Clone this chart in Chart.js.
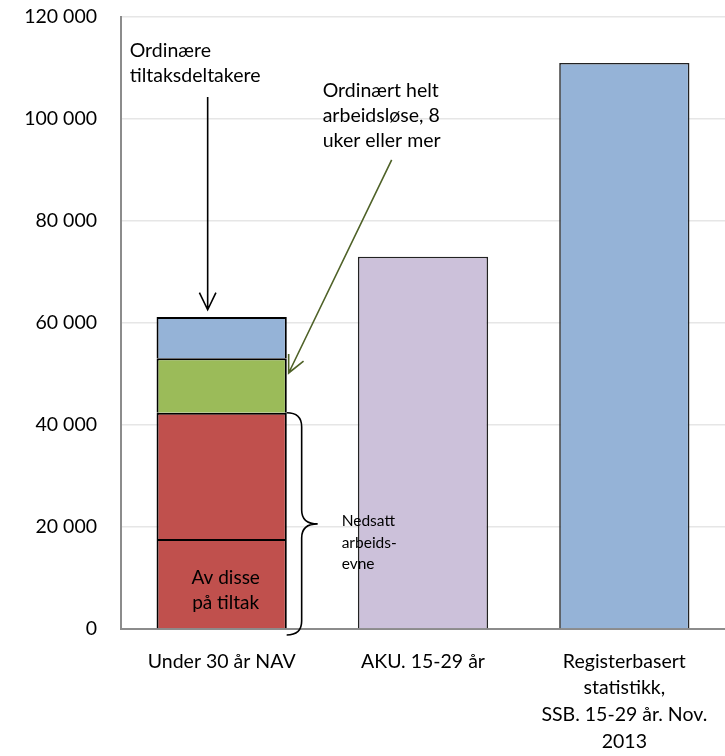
<!DOCTYPE html>
<html>
<head>
<meta charset="utf-8">
<script src="https://cdn.jsdelivr.net/npm/chart.js@4/dist/chart.umd.min.js"></script>
<style>
  html, body { margin: 0; padding: 0; background: #fff; }
  #wrap { width: 725px; height: 756px; }
</style>
</head>
<body>
<div id="wrap"><canvas id="chart" width="725" height="756"></canvas></div>
<script>
// ---------- DATA ----------
const categories = [
  ["Under 30 år NAV"],
  ["AKU. 15-29 år"],
  ["Registerbasert", "statistikk,", "SSB. 15-29 år. Nov.", "2013"]
];
const paaTiltak = [17650, null, null];        // nedsatt arbeidsevne, av disse på tiltak
const nedsattOvrige = [24750, null, null];    // resten av nedsatt arbeidsevne
const heltLedige = [10700, null, null];       // ordinært helt arbeidsløse, 8 uker+
const ordinaereTiltak = [8100, null, null];   // ordinære tiltaksdeltakere
const totaler = [null, 73000, 111000];
const yTicks = [0, 20000, 40000, 60000, 80000, 100000, 120000];

const FONT = "Lato, 'Open Sans', sans-serif";
const RED = "#c0504d", GREEN = "#9bbb59", BLUE = "#95b3d7", LILAC = "#ccc1da";

function fmt(v) {
  return String(v).replace(/\B(?=(\d{3})+(?!\d))/g, " ");
}

// ---------- ANNOTATIONS ----------
function arrow(ctx, x1, y1, x2, y2, color, head) {
  ctx.save();
  ctx.strokeStyle = color;
  ctx.lineWidth = 1.6;
  ctx.beginPath();
  ctx.moveTo(x1, y1);
  ctx.lineTo(x2, y2);
  const a = Math.atan2(y2 - y1, x2 - x1);
  ctx.moveTo(x2 - head * Math.cos(a - 0.45), y2 - head * Math.sin(a - 0.45));
  ctx.lineTo(x2, y2);
  ctx.lineTo(x2 - head * Math.cos(a + 0.45), y2 - head * Math.sin(a + 0.45));
  ctx.stroke();
  ctx.restore();
}

function lines(ctx, arr, x, y, step) {
  arr.forEach((t, i) => ctx.fillText(t, x, y + i * step));
}

const annotations = {
  id: "annotations",
  afterDatasetsDraw(chart) {
    const { ctx, scales: { x, y } } = chart;
    const bx = x.getPixelForValue(0);
    const half = 65;
    ctx.save();
    ctx.fillStyle = "#000";
    ctx.textBaseline = "middle";

    ctx.font = "15.5px " + FONT;
    ctx.textAlign = "left";
    lines(ctx, ["Nedsatt", "arbeids-", "evne"], bx + 120, y.getPixelForValue(21100), 21.5);

    ctx.font = "19.5px " + FONT;
    lines(ctx, ["Ordinære", "tiltaksdeltakere"], bx - 92, y.getPixelForValue(113300), 24.5);
    lines(ctx, ["Ordinært helt", "arbeidsløse, 8", "uker eller mer"], bx + 101, y.getPixelForValue(105600), 25);
    ctx.textAlign = "center";
    ctx.font = "19px " + FONT;
    lines(ctx, ["Av disse", "på tiltak"], bx + 4, y.getPixelForValue(10100), 25);

    // black arrow to the top segment
    arrow(ctx, bx - 14, y.getPixelForValue(104300), bx - 14, y.getPixelForValue(62600), "#000", 19);
    // green arrow to the green segment
    arrow(ctx, bx + 170, y.getPixelForValue(92000), bx + half + 2, y.getPixelForValue(50200), "#4f6228", 19);

    // brace for "nedsatt arbeidsevne"
    const top = y.getPixelForValue(42400), bot = y.getPixelForValue(0) + 6;
    const mid = (top + bot) / 2;
    const x0 = bx + half, x1 = x0 + 15, x2 = x1 + 16, r = 14;
    ctx.strokeStyle = "#000";
    ctx.lineWidth = 1.6;
    ctx.beginPath();
    ctx.moveTo(x0, top);
    ctx.quadraticCurveTo(x1, top, x1, top + r);
    ctx.lineTo(x1, mid - r);
    ctx.quadraticCurveTo(x1, mid, x2, mid);
    ctx.quadraticCurveTo(x1, mid, x1, mid + r);
    ctx.lineTo(x1, bot - r);
    ctx.quadraticCurveTo(x1, bot, x0, bot);
    ctx.stroke();
    ctx.restore();
  }
};

// ---------- CHART ----------
const barOpts = { borderColor: "#000", borderWidth: 2, borderSkipped: "bottom", stack: "s" };

new Chart(document.getElementById("chart"), {
  type: "bar",
  data: {
    labels: categories,
    datasets: [
      { ...barOpts, label: "På tiltak", data: paaTiltak, backgroundColor: RED },
      { ...barOpts, label: "Nedsatt arbeidsevne", data: nedsattOvrige, backgroundColor: RED },
      { ...barOpts, label: "Ordinært helt arbeidsløse", data: heltLedige, backgroundColor: GREEN },
      { ...barOpts, label: "Ordinære tiltaksdeltakere", data: ordinaereTiltak, backgroundColor: BLUE },
      { ...barOpts, label: "Totalt", data: totaler, backgroundColor: [LILAC, LILAC, BLUE], borderColor: "#222", borderWidth: 1.6 }
    ]
  },
  options: {
    responsive: false,
    animation: false,
    layout: { padding: { top: 17, right: 0, left: 0, bottom: 0 } },
    categoryPercentage: 1,
    barPercentage: 0.647,
    plugins: { legend: { display: false }, tooltip: { enabled: false } },
    scales: {
      x: {
        stacked: true,
        grid: { display: false, drawTicks: false },
        border: { color: "#8c8c8c", width: 2 },
        ticks: { color: "#000", font: { family: FONT, size: 19.5, lineHeight: 1.37 }, padding: 19, maxRotation: 0, autoSkip: false },
        afterFit(s) { s.height = 127; s.paddingLeft = 0; s.paddingRight = 0; }
      },
      y: {
        stacked: true,
        min: 0,
        max: 120000,
        afterBuildTicks(s) { s.ticks = yTicks.map(v => ({ value: v })); },
        grid: { color: "#e6e6e6", lineWidth: 1.5, drawTicks: false },
        border: { color: "#8c8c8c", width: 2 },
        ticks: { color: "#000", font: { family: FONT, size: 19.5 }, padding: 24, callback: v => fmt(v) },
        afterFit(s) { s.width = 121; s.paddingTop = 0; s.paddingBottom = 0; }
      }
    }
  },
  plugins: [annotations]
});
</script>
</body>
</html>
